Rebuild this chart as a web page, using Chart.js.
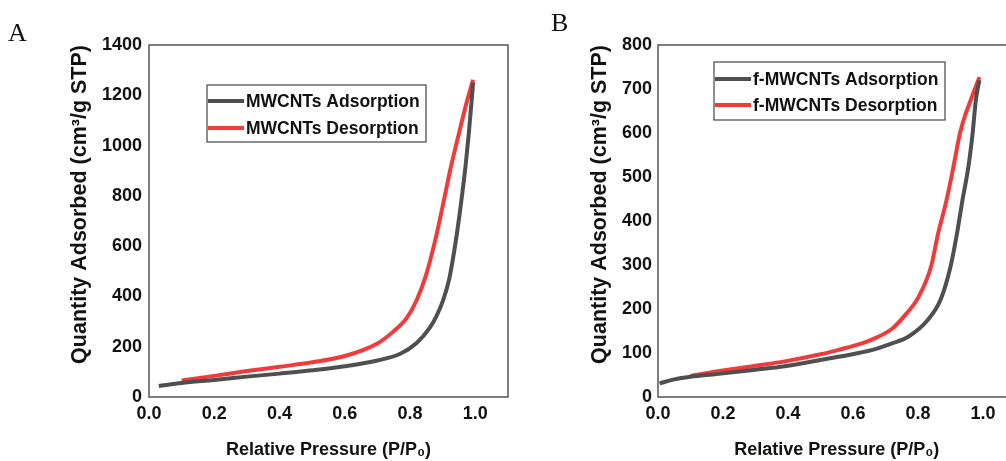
<!DOCTYPE html>
<html>
<head>
<meta charset="utf-8">
<script src="https://cdn.jsdelivr.net/npm/chart.js@4/dist/chart.umd.min.js"></script>
<style>
    html, body { margin: 0; padding: 0; background: #fff; }
    #wrap { position: relative; width: 1006px; height: 461px; overflow: hidden; }
    #wrap canvas { position: absolute; top: 0; }
    .tag { position: absolute; font-family: "Liberation Serif", "Times New Roman", serif; font-size: 26px; line-height: 1; color: #111; }
</style>
</head>
<body>
<div id="wrap">
    <canvas id="chartA" width="520" height="461" style="left:0"></canvas>
    <canvas id="chartB" width="520" height="461" style="left:520px"></canvas>
    <div class="tag" style="left:8px; top:20px;">A</div>
    <div class="tag" style="left:551px; top:10px;">B</div>
</div>
<script>
// ---- data ---------------------------------------------------------------------------------------------

var pressureTicks = [0, 0.2, 0.4, 0.6, 0.8, 1.0];
var qtyTicksA = [0, 200, 400, 600, 800, 1000, 1200, 1400];
var qtyTicksB = [0, 100, 200, 300, 400, 500, 600, 700, 800];

var labelsA = ['MWCNTs Adsorption', 'MWCNTs Desorption'];
var labelsB = ['f-MWCNTs Adsorption', 'f-MWCNTs Desorption'];

// MWCNTs
var mwAdsP = [0.03, 0.1, 0.2, 0.3, 0.4, 0.5, 0.6, 0.7, 0.77, 0.82, 0.86, 0.88, 0.9, 0.92, 0.94, 0.955, 0.97, 0.98, 0.988, 0.993];
var mwAdsQ = [44, 56, 68, 81, 93, 106, 122, 145, 172, 215, 275, 320, 380, 470, 620, 760, 920, 1050, 1170, 1250];
var mwDesP = [0.1, 0.2, 0.3, 0.4, 0.5, 0.6, 0.7, 0.75, 0.79, 0.82, 0.85, 0.88, 0.9, 0.925, 0.95, 0.975, 0.993];
var mwDesQ = [66, 84, 103, 120, 138, 163, 213, 262, 315, 385, 490, 640, 760, 915, 1050, 1180, 1262];

// f-MWCNTs
var fAdsP = [0.005, 0.05, 0.1, 0.18, 0.3, 0.39, 0.5, 0.56, 0.66, 0.72, 0.77, 0.83, 0.87, 0.9, 0.92, 0.937, 0.955, 0.968, 0.978, 0.989];
var fAdsQ = [31, 40, 46, 52, 62, 70, 84, 92, 107, 122, 137, 175, 222, 296, 372, 448, 523, 599, 675, 720];
var fDesP = [0.1, 0.18, 0.3, 0.39, 0.5, 0.56, 0.62, 0.66, 0.72, 0.765, 0.8, 0.84, 0.862, 0.888, 0.909, 0.929, 0.945, 0.965, 0.989];
var fDesQ = [48, 58, 71, 81, 97, 108, 120, 131, 155, 190, 225, 296, 372, 448, 523, 599, 640, 680, 727];

// -------------------------------------------------------------------------------------------------------

(function () {

var FONT = '"Liberation Sans", Arial, sans-serif';
var GRAY = '#4f4f4f';
var RED = '#ef3b3b';

Chart.defaults.font.family = FONT;
Chart.defaults.color = '#111';

function pts(px, qy) {
    return px.map(function (p, i) { return { x: p, y: qy[i] }; });
}

// box round the plot + legend inside it
var framePlugin = {
    id: 'frame',
    afterDraw: function (chart) {
        var ctx = chart.ctx, a = chart.chartArea, lg = chart.options.plugins.frame;
        ctx.save();
        ctx.strokeStyle = '#555';
        ctx.lineWidth = 1.5;
        ctx.strokeRect(a.left, a.top, a.right - a.left, a.bottom - a.top);

        var bx = a.left + lg.dx, by = a.top + lg.dy;
        ctx.lineWidth = 1.2;
        ctx.strokeStyle = '#444';
        ctx.strokeRect(bx, by, lg.w, lg.h);

        ctx.font = 'bold 17.5px ' + FONT;
        ctx.textBaseline = 'middle';
        ctx.fillStyle = '#111';
        chart.data.datasets.forEach(function (ds, i) {
            var y = by + lg.rows[i];
            ctx.strokeStyle = ds.borderColor;
            ctx.lineWidth = 4;
            ctx.beginPath();
            ctx.moveTo(bx + 1, y);
            ctx.lineTo(bx + 37, y);
            ctx.stroke();
            ctx.fillText(ds.label, bx + 39, y + 1);
        });
        ctx.restore();
    }
};

window.isotherm_chart = function (canvasId, labels, ads, des, yTicks, o) {
    try {
        var canvas = document.getElementById(canvasId);
        if (!canvas) return;
        var ctx = canvas.getContext('2d');

        return new Chart(ctx, {
            type: 'scatter',
            data: {
                datasets: [
                    { label: labels[0], data: ads, borderColor: GRAY, borderWidth: 4, showLine: true, pointRadius: 0, cubicInterpolationMode: 'monotone' },
                    { label: labels[1], data: des, borderColor: RED, borderWidth: 4, showLine: true, pointRadius: 0, cubicInterpolationMode: 'monotone' }
                ]
            },
            options: {
                responsive: false,
                animation: false,
                devicePixelRatio: 1,
                layout: { padding: { left: 0, top: 45, right: o.padRight, bottom: 0 } },
                plugins: {
                    legend: { display: false },
                    tooltip: { enabled: false },
                    frame: o.legend
                },
                scales: {
                    x: {
                        type: 'linear', min: 0, max: 1.1,
                        afterFit: function (s) { s.height = 64; },
                        afterBuildTicks: function (s) { s.ticks = pressureTicks.map(function (v) { return { value: v }; }); },
                        grid: { display: false, drawTicks: false },
                        border: { display: false },
                        ticks: { font: { size: 18, weight: 'bold' }, color: '#111', padding: 6, callback: function (v) { return v.toFixed(1); } },
                        title: { display: true, text: 'Relative Pressure (P/P\u2080)', font: { size: 18, weight: 'bold' }, color: '#111', padding: { top: 0, bottom: 0 } }
                    },
                    y: {
                        type: 'linear', min: 0, max: yTicks[yTicks.length - 1],
                        afterFit: function (s) { s.width = o.axisWidth; },
                        afterBuildTicks: function (s) { s.ticks = yTicks.map(function (v) { return { value: v }; }); },
                        grid: { display: false, drawTicks: false },
                        border: { display: false },
                        ticks: { font: { size: 18, weight: 'bold' }, color: '#111', padding: o.tickPad, callback: function (v) { return String(v); } },
                        title: { display: true, align: 'end', text: 'Quantity Adsorbed (cm\u00b3/g STP)', font: { size: 21.5, weight: 'bold' }, color: '#111', padding: { top: 67, bottom: 0 } }
                    }
                }
            },
            plugins: [framePlugin]
        });
    } catch (e) { console.log(e); }
};

isotherm_chart('chartA', labelsA, pts(mwAdsP, mwAdsQ), pts(mwDesP, mwDesQ), qtyTicksA,
    { padRight: 12, axisWidth: 149, tickPad: 7, legend: { dx: 58, dy: 40, w: 219, h: 57, rows: [16, 43] } });

isotherm_chart('chartB', labelsB, pts(fAdsP, fAdsQ), pts(fDesP, fDesQ), qtyTicksB,
    { padRight: 24.5, axisWidth: 138, tickPad: 6, legend: { dx: 56, dy: 17, w: 231, h: 58, rows: [17, 43] } });

})();
</script>
</body>
</html>
